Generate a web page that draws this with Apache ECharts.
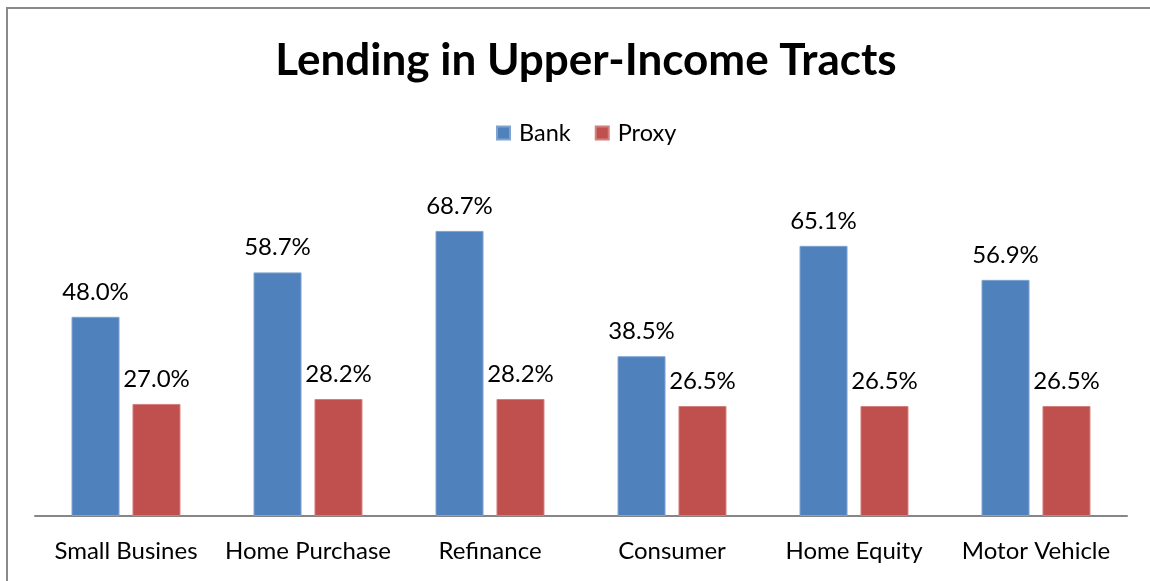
<!DOCTYPE html>
<html>
<head>
<meta charset="utf-8">
<script src="https://cdn.jsdelivr.net/npm/echarts@6/dist/echarts.min.js"></script>
<style>
  html, body { margin: 0; padding: 0; background: #fff; }
  #chart { width: 1150px; height: 581px; }
</style>
</head>
<body>
<div id="chart"></div>
<script>
// Lending categories and shares (%) in upper-income tracts
const categories = ['Small Busines', 'Home Purchase', 'Refinance', 'Consumer', 'Home Equity', 'Motor Vehicle'];
const bankValues = [48.0, 58.7, 68.7, 38.5, 65.1, 56.9];
const proxyValues = [27.0, 28.2, 28.2, 26.5, 26.5, 26.5];

const FONT = 'Lato, "Open Sans", sans-serif';

const chart = echarts.init(document.getElementById('chart'), null, { renderer: 'canvas' });

const labelStyle = {
  show: true,
  position: 'top',
  distance: 13,
  formatter: p => p.value.toFixed(1) + '%',
  color: '#000',
  fontFamily: FONT,
  fontSize: 24
};

chart.setOption({
  backgroundColor: '#fff',
  animation: false,
  title: {
    text: 'Lending in Upper-Income Tracts',
    left: 581,
    textAlign: 'center',
    top: 34,
    textStyle: { fontFamily: FONT, fontWeight: 'bold', fontSize: 44, color: '#000' }
  },
  legend: {
    data: ['Bank', 'Proxy'],
    left: 491,
    top: 116,
    itemWidth: 13,
    itemHeight: 13,
    itemGap: 24,
    icon: 'rect',
    textStyle: { fontFamily: FONT, fontSize: 23.5, color: '#000', padding: [0, 0, 0, 4] }
  },
  grid: { left: 35, right: 23, top: 184, bottom: 65 },
  xAxis: {
    type: 'category',
    data: categories,
    axisLine: { show: true, lineStyle: { color: '#868686', width: 2 } },
    axisTick: { show: false },
    axisLabel: { margin: 23, color: '#000', fontFamily: FONT, fontSize: 24, interval: 0 }
  },
  yAxis: {
    type: 'value',
    min: 0,
    max: 80,
    show: false,
    splitLine: { show: false }
  },
  series: [
    {
      name: 'Bank',
      type: 'bar',
      data: bankValues,
      barWidth: 48,
      barGap: '27%',
      itemStyle: { color: '#4F81BD', borderColor: '#7FA3CF', borderWidth: 1 },
      label: labelStyle
    },
    {
      name: 'Proxy',
      type: 'bar',
      data: proxyValues,
      barWidth: 48,
      itemStyle: { color: '#C0504D', borderColor: '#D27F7D', borderWidth: 1 },
      label: labelStyle
    }
  ],
  graphic: [
    {
      type: 'rect',
      silent: true,
      shape: { x: 7, y: 8, width: 1300, height: 800 },
      style: { fill: 'none', stroke: '#8a8a8a', lineWidth: 2 }
    }
  ]
});
</script>
</body>
</html>
